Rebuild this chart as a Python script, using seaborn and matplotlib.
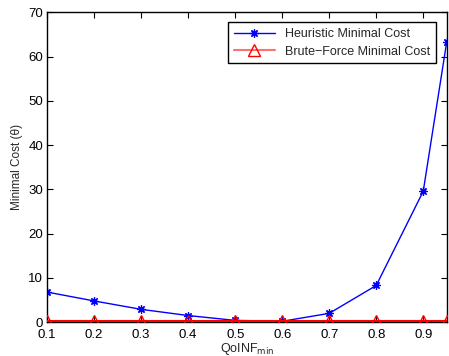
import matplotlib
matplotlib.use("Agg")
import matplotlib.pyplot as plt
import seaborn as sns
import pandas as pd

qoinf = [0.1, 0.2, 0.3, 0.4, 0.5, 0.6, 0.7, 0.8, 0.9, 0.95]
heuristic = [6.8, 4.8, 2.9, 1.5, 0.4, 0.2, 2.0, 8.3, 29.6, 63.4]
brute = [0.2, 0.2, 0.2, 0.2, 0.2, 0.2, 0.2, 0.2, 0.2, 0.2]
xticks = [0.1, 0.2, 0.3, 0.4, 0.5, 0.6, 0.7, 0.8, 0.9]
yticks = [0, 10, 20, 30, 40, 50, 60, 70]

sns.set_theme(style="ticks")
plt.rcParams['font.family'] = ['Liberation Sans', 'DejaVu Sans']

df = pd.DataFrame({"x": qoinf, "h": heuristic, "b": brute})

fig = plt.figure(figsize=(4.49, 3.56), dpi=100)
ax = fig.add_axes([0.105, 0.095, 0.89, 0.87])

sns.lineplot(data=df, x="x", y="h", ax=ax, color="blue", marker=(8, 2, 0),
             markersize=6, linewidth=1.0, label="Heuristic Minimal Cost")
sns.lineplot(data=df, x="x", y="b", ax=ax, color="red", marker="^",
             markersize=8, linewidth=1.5, label="Brute-Force Minimal Cost")

hl, bl = ax.lines[0], ax.lines[1]
hl.set_markeredgecolor("blue")
hl.set_markerfacecolor("blue")
hl.set_markeredgewidth(0.9)
bl.set_markerfacecolor("none")
bl.set_markeredgecolor("red")
bl.set_markeredgewidth(1.0)
bl.set_zorder(3)

ax.set_xlim(0.1, 0.95)
ax.set_ylim(0, 70)
ax.set_xticks(xticks)
ax.set_xticklabels([f"{t:g}" for t in xticks])
ax.set_yticks(yticks)
ax.tick_params(direction="in", top=True, right=True, labelsize=9.5, length=4,
               width=0.8, colors="black", pad=3)
ax.tick_params(axis="x", pad=5)
for s in ax.spines.values():
    s.set_linewidth(1.0)
    s.set_color("black")
ax.set_xlabel(r"QoINF$_{\mathrm{min}}$", fontsize=9, labelpad=0)
ax.set_ylabel("Minimal Cost (θ)", fontsize=8.5, labelpad=4)

leg = ax.legend(loc="upper right", fontsize=9, frameon=True, fancybox=False,
                edgecolor="black", framealpha=1, borderpad=0.45,
                handlelength=3.3, labelspacing=0.45, borderaxespad=0,
                bbox_to_anchor=(0.9725, 0.968))
leg.get_frame().set_linewidth(1.0)
for t in leg.get_texts():
    t.set_text(t.get_text().replace("-", "\u2212"))
lh = leg.legend_handles
lh[0].set_markeredgecolor("blue")
lh[0].set_markerfacecolor("blue")
lh[1].set_markerfacecolor("none")
lh[1].set_color("#ff7070")
lh[1].set_markeredgecolor("red")

fig.savefig("out.png", dpi=100)
